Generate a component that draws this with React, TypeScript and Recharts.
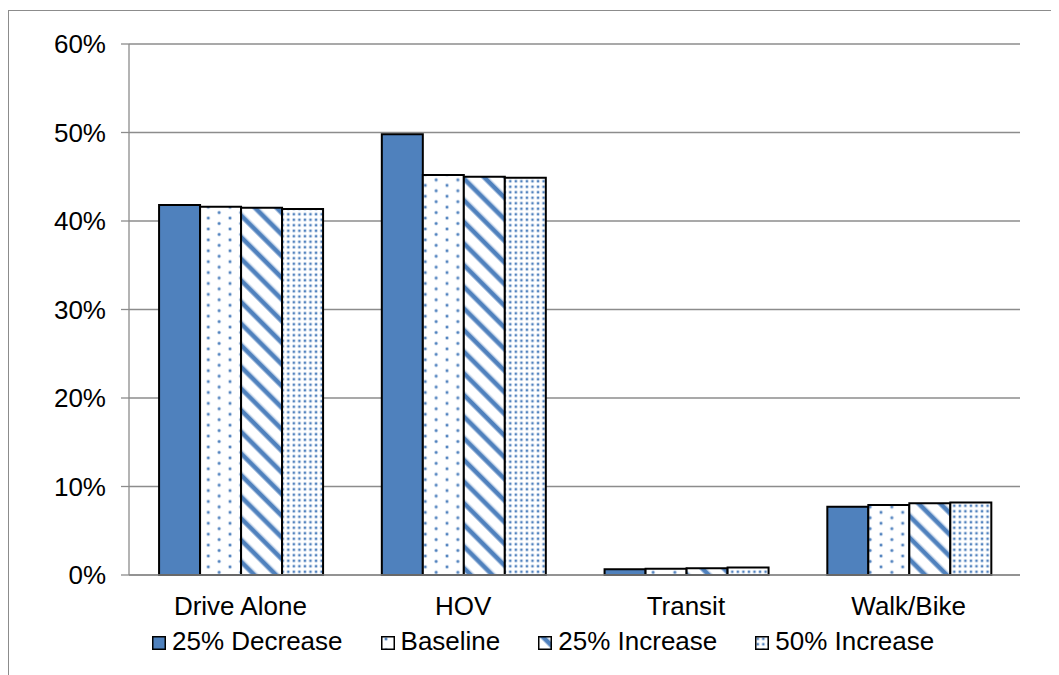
import React from 'react';
import { BarChart, Bar, XAxis, YAxis, CartesianGrid } from 'recharts';

// Mode share by travel mode under four scenarios (percent of trips)
const categories = ['Drive Alone', 'HOV', 'Transit', 'Walk/Bike'];
const decrease25 = [41.8, 49.8, 0.65, 7.7];
const baseline = [41.6, 45.2, 0.7, 7.9];
const increase25 = [41.5, 45.0, 0.75, 8.1];
const increase50 = [41.35, 44.9, 0.85, 8.2];
const yTicks = [0, 10, 20, 30, 40, 50, 60];
const boundaryTicks = [0, 1, 2, 3, 4];

const BLUE = '#4F81BD';
const GRID = '#8c8c8c';
const FONT = '"Liberation Sans", Arial, sans-serif';

const series = [
  { key: 'd25', name: '25% Decrease', fill: BLUE, values: decrease25 },
  { key: 'base', name: 'Baseline', fill: 'url(#patSparseDots)', values: baseline },
  { key: 'i25', name: '25% Increase', fill: 'url(#patStripes)', values: increase25 },
  { key: 'i50', name: '50% Increase', fill: 'url(#patDenseDots)', values: increase50 },
];

const data = categories.map((c, i) => {
  const row: Record<string, string | number> = { category: c };
  series.forEach((s) => {
    row[s.key] = s.values[i];
  });
  return row;
});

function PatternDefs() {
  return (
    <svg width={0} height={0} style={{ position: 'absolute' }}>
      <defs>
        <pattern id="patSparseDots" patternUnits="userSpaceOnUse" width={21.7} height={10.9}>
          <rect width={21.7} height={10.9} fill="#fff" />
          <circle cx={5} cy={3} r={2} fill="#c3d4ea" />
          <circle cx={5} cy={3} r={1.2} fill={BLUE} />
          <circle cx={15.85} cy={8.45} r={2} fill="#c3d4ea" />
          <circle cx={15.85} cy={8.45} r={1.2} fill={BLUE} />
        </pattern>
        <pattern id="patDenseDots" patternUnits="userSpaceOnUse" width={5.55} height={5.5}>
          <rect width={5.55} height={5.5} fill="#fff" />
          <circle cx={2.8} cy={2.75} r={1.9} fill="#c9d8ec" />
          <circle cx={2.8} cy={2.75} r={1.1} fill={BLUE} />
        </pattern>
        <pattern
          id="patStripes"
          patternUnits="userSpaceOnUse"
          width={15.3}
          height={15.3}
          patternTransform="rotate(-45)"
        >
          <rect width={15.3} height={15.3} fill="#fff" />
          <rect x={0} width={1} height={15.3} fill="#a9c1e0" />
          <rect x={1} width={4} height={15.3} fill={BLUE} />
          <rect x={5} width={1} height={15.3} fill="#a9c1e0" />
        </pattern>
      </defs>
    </svg>
  );
}

function LegendRow() {
  return (
    <div
      style={{
        position: 'absolute',
        left: 144,
        top: 618,
        display: 'flex',
        alignItems: 'center',
        fontFamily: FONT,
        fontSize: 26,
        lineHeight: '30px',
        color: '#000',
        whiteSpace: 'nowrap',
      }}
    >
      {series.map((s) => (
        <div key={s.key} style={{ display: 'flex', alignItems: 'center', marginRight: 38 }}>
          <svg width={14} height={14} style={{ marginRight: 6, position: 'relative', top: 2 }}>
            <rect x={0.75} y={0.75} width={12.5} height={12.5} fill={s.fill} stroke="#000" strokeWidth={1.5} />
          </svg>
          <span>{s.name}</span>
        </div>
      ))}
    </div>
  );
}

export default function App() {
  return (
    <div style={{ position: 'relative', width: 1051, height: 667, overflow: 'hidden', fontFamily: FONT }}>
      <style>{'html,body{overflow:hidden}'}</style>
      <PatternDefs />
      <div
        style={{
          position: 'absolute',
          left: 0,
          top: 2,
          width: 1200,
          height: 900,
          border: `1px solid ${GRID}`,
          boxSizing: 'border-box',
        }}
      />
      <div style={{ position: 'absolute', left: 0, top: 0 }}>
        <BarChart
          width={1051}
          height={660}
          data={data}
          margin={{ top: 36, right: 39, left: 0, bottom: 0 }}
          barCategoryGap="13.5%"
          barGap={0}
        >
          <CartesianGrid vertical={false} stroke={GRID} strokeWidth={1.3} />
          <XAxis
            xAxisId="bounds"
            type="number"
            domain={[0, 4]}
            ticks={boundaryTicks}
            tick={false}
            axisLine={false}
            tickLine={{ stroke: GRID, strokeWidth: 1.3 }}
            tickSize={8}
            height={0}
          />
          <XAxis
            xAxisId="cat"
            dataKey="category"
            type="category"
            height={93}
            tickLine={false}
            tickSize={0}
            tickMargin={22}
            axisLine={{ stroke: GRID, strokeWidth: 1.3 }}
            tick={{ fill: '#000', fontSize: 26, fontFamily: FONT }}
            interval={0}
          />
          <YAxis
            domain={[0, 60]}
            ticks={yTicks}
            width={121}
            tickSize={8}
            tickMargin={15}
            tickFormatter={(v: number) => `${v}%`}
            axisLine={{ stroke: GRID, strokeWidth: 1.3 }}
            tickLine={{ stroke: GRID, strokeWidth: 1.3 }}
            tick={{ fill: '#000', fontSize: 26, fontFamily: FONT }}
          />
          {series.map((s) => (
            <Bar
              key={s.key}
              xAxisId="cat"
              dataKey={s.key}
              name={s.name}
              fill={s.fill}
              stroke="#000"
              strokeWidth={2}
              isAnimationActive={false}
            />
          ))}
        </BarChart>
      </div>
      <LegendRow />
    </div>
  );
}
